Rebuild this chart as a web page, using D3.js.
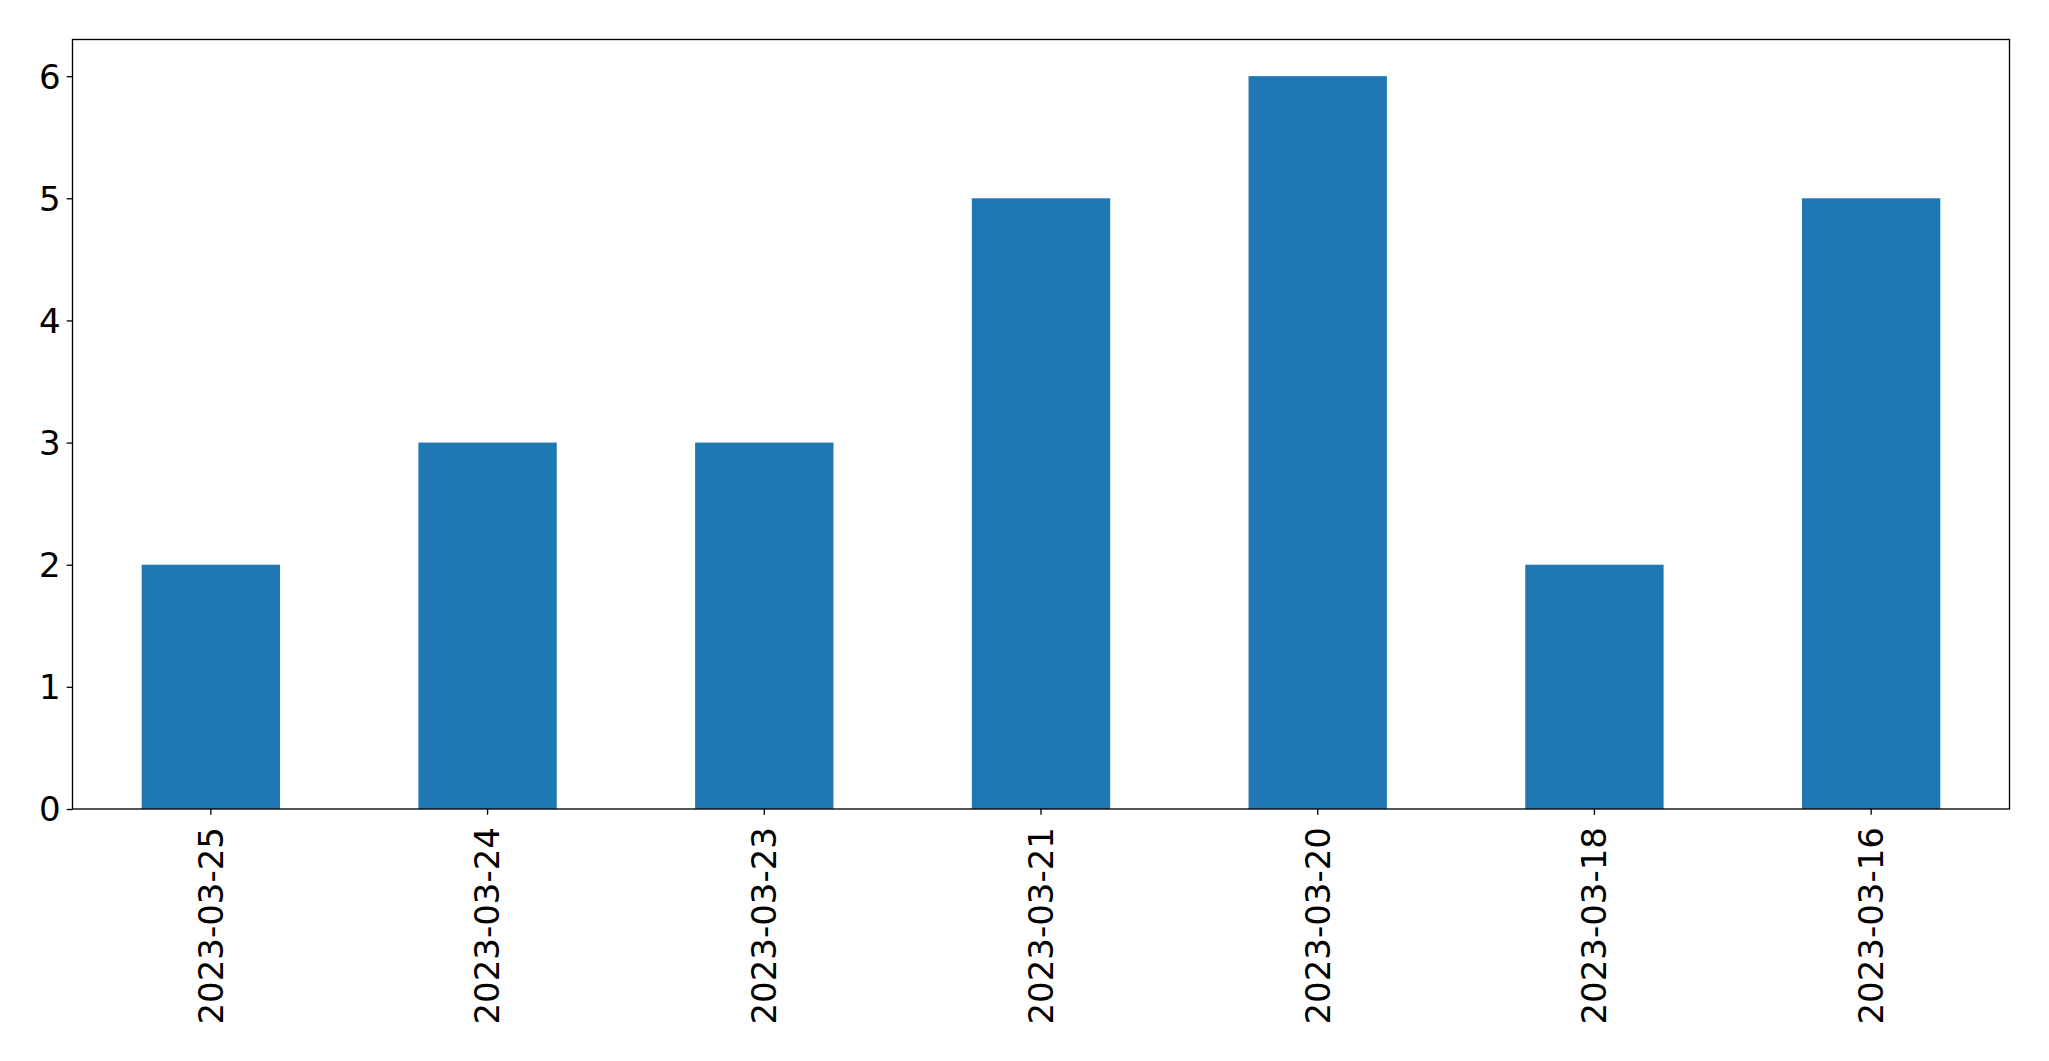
<!DOCTYPE html>
<html>
<head>
<meta charset="utf-8">
<script src="https://cdn.jsdelivr.net/npm/d3@7"></script>
<style>
html,body{margin:0;padding:0;background:#fff;}
svg{display:block;}
text{font-family:"DejaVu Sans",sans-serif;fill:#000;}
</style>
</head>
<body>
<script>
const categories = ["2023-03-25","2023-03-24","2023-03-23","2023-03-21","2023-03-20","2023-03-18","2023-03-16"];
const values = [2,3,3,5,6,2,5];
const yTicks = [0,1,2,3,4,5,6];

const W = 2049, H = 1061;
const mLeft = 72.5, mRight = 2009.5, mTop = 39.5, mBottom = 809;
const fontSize = 34;

const svg = d3.select("body").append("svg").attr("width", W).attr("height", H);

const x = d3.scaleBand().domain(categories).range([mLeft, mRight]).paddingInner(0.5).paddingOuter(0.25);
const y = d3.scaleLinear().domain([0, 6.3]).range([mBottom, mTop]);

svg.append("g").selectAll("rect").data(values).join("rect")
  .attr("x", (d,i) => x(categories[i]))
  .attr("width", x.bandwidth())
  .attr("y", d => y(d))
  .attr("height", d => y(0) - y(d))
  .attr("fill", "#1f77b4");

// frame
svg.append("rect").attr("x", mLeft).attr("y", mTop).attr("width", mRight-mLeft).attr("height", mBottom-mTop)
  .attr("fill","none").attr("stroke","#000").attr("stroke-width",1.33);

const xAxis = svg.append("g").attr("transform", `translate(0,${mBottom})`)
  .call(d3.axisBottom(x).tickSize(5.8).tickPadding(0));
xAxis.select(".domain").remove();
xAxis.selectAll("line").attr("stroke","#000").attr("stroke-width",1.33);
xAxis.selectAll("text")
  .attr("font-size", fontSize)
  .attr("font-family", "DejaVu Sans")
  .attr("text-anchor","end")
  .attr("transform","rotate(-90)")
  .attr("x", -18)
  .attr("y", 0)
  .attr("dy","0.35em");

const yAxis = svg.append("g").attr("transform", `translate(${mLeft},0)`)
  .call(d3.axisLeft(y).tickValues(yTicks).tickFormat(d3.format("d")).tickSize(5.8).tickPadding(6));
yAxis.select(".domain").remove();
yAxis.selectAll("line").attr("stroke","#000").attr("stroke-width",1.33);
yAxis.selectAll("text").attr("font-size", fontSize).attr("font-family","DejaVu Sans").attr("dy","0.35em");
</script>
</body>
</html>
